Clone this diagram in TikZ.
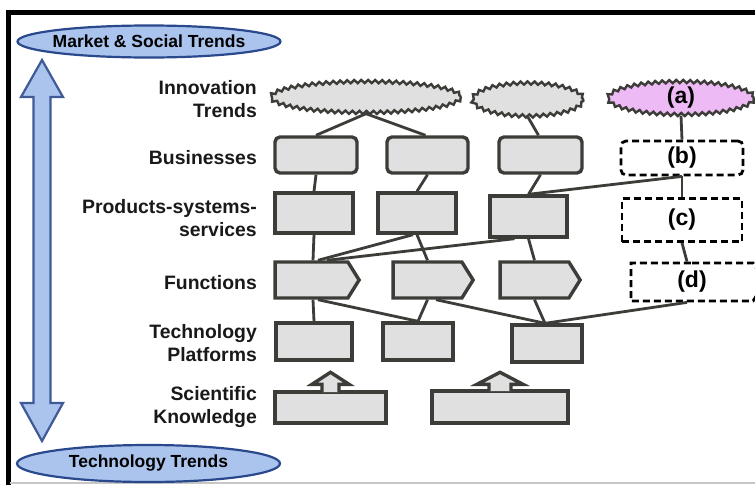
\documentclass[tikz,border=0pt]{standalone}
\usepackage{fontspec}
\setmainfont{Liberation Sans}
\usetikzlibrary{shapes.geometric,shapes.symbols,decorations.pathmorphing}
\definecolor{boxgray}{RGB}{224,224,224}
\definecolor{linegray}{RGB}{60,60,56}
\definecolor{trendblue}{RGB}{170,196,238}
\definecolor{trendedge}{RGB}{42,72,140}
\definecolor{pinkfill}{RGB}{238,186,246}
\begin{document}
\begin{tikzpicture}
            [x=1pt, y=-1pt,
            burst/.style={ellipse, draw=linegray, fill=boxgray, line width=2.4pt, inner sep=0pt, decorate, decoration={zigzag, segment length=7pt, amplitude=1.6pt}},
            busbox/.style={rectangle, rounded corners=5pt, draw=linegray, fill=boxgray, line width=3.4pt, inner sep=0pt, minimum height=36pt},
            plainbox/.style={rectangle, draw=linegray, fill=boxgray, line width=3.4pt, inner sep=0pt},
            funbox/.style={signal, signal to=east, signal pointer angle=116, draw=linegray, fill=boxgray, line width=3.4pt, inner sep=0pt, minimum height=36pt},
            newbox/.style={draw=black, fill=white, line width=2.8pt, dash pattern=on 7pt off 4pt, inner sep=0pt, font=\fontsize{23}{26}\bfseries},
            rowlabel/.style={anchor=east, align=right, inner sep=0pt, font=\fontsize{19.4}{23}\bfseries, text=black!90},
            trend/.style={ellipse, draw=trendedge, fill=trendblue, line width=2.2pt, inner xsep=-5pt, inner ysep=0pt, minimum width=263pt, font=\fontsize{17.5}{20}\bfseries},
            link/.style={draw=linegray, line width=2.8pt},
            sciarrow/.style={draw=linegray, fill=boxgray, line width=3.4pt, line join=miter},
            bigarrow/.style={draw=trendedge!90, fill=trendblue, line width=2.2pt, line join=miter}]

            \useasboundingbox (0,0) rectangle (755,485);
            \clip (0,0) rectangle (755,485);
            \fill[white] (0,0) rectangle (755,485);
            \draw[line width=5pt] (8,485) -- (8,12.5) -- (755,12.5);
            \draw[black!22, line width=1.5pt] (10,483) -- (755,483);

            \node[trend, minimum height=32pt] (mkt) at (149,41.5) {Market \& Social Trends};
            \node[trend, minimum height=37pt] (tec) at (148.5,463.5) {Technology Trends};
            \draw[bigarrow] (42,60) -- (63,97) -- (50.5,97) -- (50.5,403) -- (63,403) -- (42,441)
                -- (21,403) -- (33.5,403) -- (33.5,97) -- (21,97) -- cycle;

            \node[rowlabel] (lbinn) at (257,99.5) {Innovation\\Trends};
            \node[rowlabel] (lbbus) at (257,157.5) {Businesses};
            \node[rowlabel] (lbpro) at (257,218.5) {Products-systems-\\services};
            \node[rowlabel] (lbfun) at (257,282.5) {Functions};
            \node[rowlabel] (lbtec) at (257,343.5) {Technology\\Platforms};
            \node[rowlabel] (lbsci) at (257,407) {Scientific\\Knowledge};

            \node[burst, minimum width=190pt, minimum height=31pt] (tr1) at (366,97) {};
            \node[burst, minimum width=111pt, minimum height=33pt] (tr2) at (528,99.5) {};
            \node[burst, fill=pinkfill, minimum width=146pt, minimum height=33pt, font=\fontsize{23}{26}\bfseries] (tra) at (681,98) {(a)};

            \node[busbox, minimum width=82pt] (bu1) at (316,155) {};
            \node[busbox, minimum width=81pt] (bu2) at (427.5,155) {};
            \node[busbox, minimum width=83pt] (bu3) at (540.5,155) {};
            \node[newbox, rectangle, rounded corners=5pt, minimum width=122pt, minimum height=34pt] (bub) at (682,158) {(b)};

            \node[plainbox, minimum width=78pt, minimum height=40pt] (pr1) at (314,213) {};
            \node[plainbox, minimum width=78pt, minimum height=40pt] (pr2) at (417,213) {};
            \node[plainbox, minimum width=77pt, minimum height=41pt] (pr3) at (528.5,216.5) {};
            \node[newbox, rectangle, minimum width=120pt, minimum height=43pt] (prc) at (682,220) {(c)};

            \node[funbox, minimum width=84pt] (fu1) at (311.5,280) {};
            \node[funbox, minimum width=80pt] (fu2) at (427.5,280) {};
            \node[funbox, minimum width=80pt] (fu3) at (534.5,280) {};
            \node[newbox, signal, signal to=east, signal pointer angle=116, minimum width=134pt, minimum height=38pt] (fud) at (692,282) {(d)};

            \node[plainbox, minimum width=76pt, minimum height=37pt] (te1) at (314,341.5) {};
            \node[plainbox, minimum width=70pt, minimum height=37pt] (te2) at (418,341.5) {};
            \node[plainbox, minimum width=70pt, minimum height=37pt] (te3) at (547,343.5) {};

            \node[plainbox, minimum width=111pt, minimum height=31pt] (sc1) at (330.5,407.5) {};
            \node[plainbox, minimum width=136pt, minimum height=32pt] (sc2) at (500,407) {};
            \draw[sciarrow] ([xshift=-8.5pt]sc1.north) ++(0,1.7) -- ++(0,-7.7) -- ++(-10,0) -- ++(18.5,-12)
                -- ++(18.5,12) -- ++(-10,0) -- ++(0,7.7);
            \draw[sciarrow] ([xshift=-11pt]sc2.north) ++(0,1.7) -- ++(0,-6.7) -- ++(-12,0) -- ++(23,-12)
                -- ++(23,12) -- ++(-12,0) -- ++(0,6.7);

            \draw[link] (tr1.south) -- (bu1.north);
            \draw[link] (tr1.south) -- ([xshift=-2pt]bu2.north);
            \draw[link] (tr2.south) -- ([xshift=-2pt]bu3.north);
            \draw[link] (tra.south) -- (bub.north);
            \draw[link] (bu1.south) -- (pr1.north);
            \draw[link] (bu2.south) -- (pr2.north);
            \draw[link] (bu3.south) -- (pr3.north);
            \draw[link] (bub.south) -- (pr3.north);
            \draw[link] (bub.south) -- (prc.north);
            \draw[link] (pr1.south) -- ([xshift=1.5pt]fu1.north);
            \draw[link] ([xshift=-4pt]pr2.south) -- ([xshift=6.5pt]fu1.north);
            \draw[link] ([xshift=-14pt]pr3.south) -- ([xshift=15.5pt]fu1.north);
            \draw[link] (pr2.south) -- (fu2.north);
            \draw[link] (pr3.south) -- (fu3.north);
            \draw[link] (prc.south) -- ([xshift=-5pt]fud.north);
            \draw[link] ([xshift=1.5pt]fu1.south) -- (te1.north);
            \draw[link] ([xshift=6.5pt]fu1.south) -- (te2.north);
            \draw[link] (fu2.south) -- (te2.north);
            \draw[link] ([xshift=8.5pt]fu2.south) -- ([xshift=-2pt]te3.north);
            \draw[link] (fu3.south) -- ([xshift=-2pt]te3.north);
            \draw[link] ([xshift=-5pt]fud.south) -- ([xshift=-2pt]te3.north);

        \end{tikzpicture}
\end{document}
